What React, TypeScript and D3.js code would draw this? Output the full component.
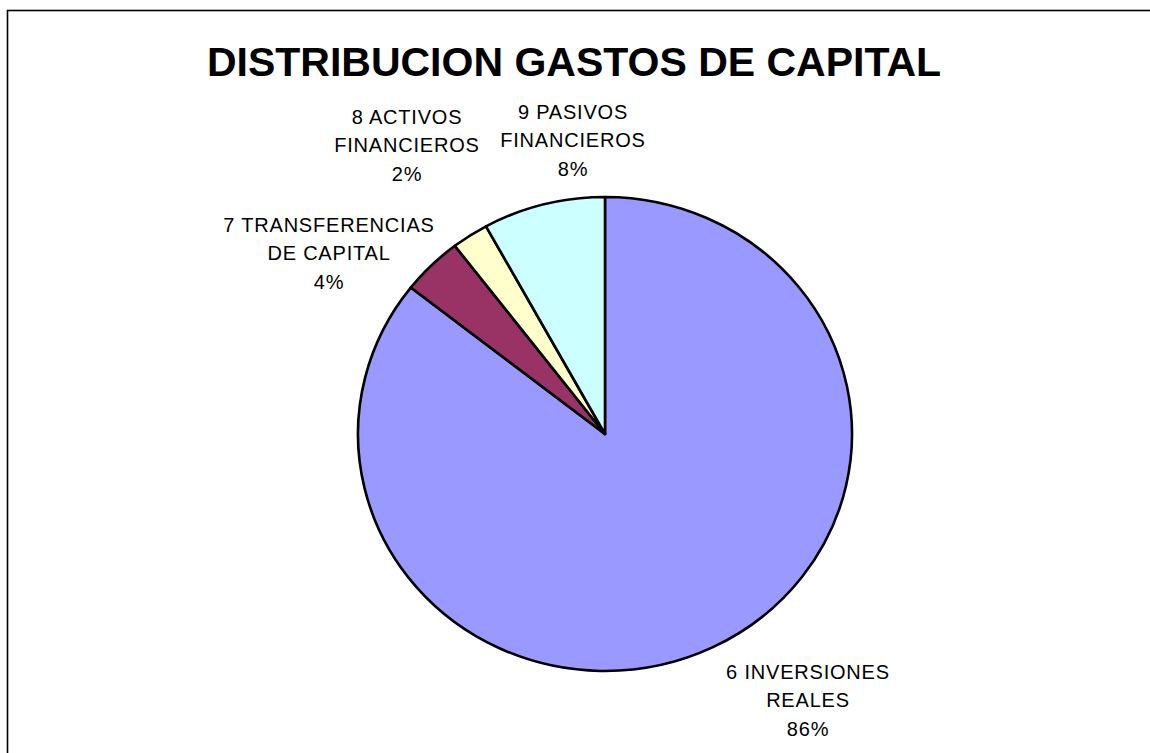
import { useEffect, useRef } from "react";
import * as d3 from "d3";

const categories = [
  "6 INVERSIONES REALES",
  "7 TRANSFERENCIAS DE CAPITAL",
  "8 ACTIVOS FINANCIEROS",
  "9 PASIVOS FINANCIEROS",
];
const values = [85.6, 4.0, 2.4, 8.0];
const labelLines = [
  ["6 INVERSIONES", "REALES"],
  ["7 TRANSFERENCIAS", "DE CAPITAL"],
  ["8 ACTIVOS", "FINANCIEROS"],
  ["9 PASIVOS", "FINANCIEROS"],
];
const colors = ["#9999FF", "#993366", "#FFFFCC", "#CCFFFF"];

// label block anchors (center x, first baseline y), Excel "best fit" spots
const labelPos = [
  [808, 679],
  [329, 232],
  [407, 124],
  [573, 119],
];

const W = 1150,
  H = 753;

const App = () => {
  const ref = useRef<SVGSVGElement>(null);

  useEffect(() => {
    const svg = d3.select(ref.current);
    svg.selectAll("*").remove();

    // frame (right and bottom edges fall outside the picture)
    svg
      .append("rect")
      .attr("x", 7.5)
      .attr("y", 10.5)
      .attr("width", 1300)
      .attr("height", 900)
      .attr("fill", "white")
      .attr("stroke", "black")
      .attr("stroke-width", 1.6);

    svg
      .append("text")
      .attr("x", 574)
      .attr("y", 76)
      .attr("text-anchor", "middle")
      .style("font", "bold 41px 'Liberation Sans', Arial, sans-serif")
      .text("DISTRIBUCION GASTOS DE CAPITAL");

    const cx = 605,
      cy = 434,
      rx = 247,
      ry = 237;

    const pie = d3
      .pie<number>()
      .sort(null)
      .value((d) => d);
    const arcs = pie(values);
    const arc = d3.arc<d3.PieArcDatum<number>>().innerRadius(0).outerRadius(ry);

    const g = svg
      .append("g")
      .attr("transform", `translate(${cx},${cy}) scale(${rx / ry},1)`);

    g.selectAll("path")
      .data(arcs)
      .enter()
      .append("path")
      .attr("d", arc)
      .attr("fill", (d, i) => colors[i])
      .attr("stroke", "black")
      .attr("stroke-width", 2.6)
      .attr("stroke-linejoin", "round")
      .attr("vector-effect", "non-scaling-stroke");

    const total = d3.sum(values);
    const lbl = svg.append("g");
    arcs.forEach((d, i) => {
      const t = lbl
        .append("text")
        .attr("text-anchor", "middle")
        .attr("fill", "black")
        .style("font", "20px 'Liberation Sans', Arial, sans-serif")
        .style("letter-spacing", "0.8px");
      const lines = [
        ...labelLines[i],
        Math.round((d.value / total) * 100) + "%",
      ];
      lines.forEach((s, k) => {
        t.append("tspan")
          .attr("x", labelPos[i][0])
          .attr("y", labelPos[i][1] + k * 28.4)
          .text(s);
      });
      t.append("title").text(categories[i]);
    });
  }, []);

  return (
    <svg
      ref={ref}
      width={W}
      height={H}
      style={{ position: "absolute", left: 0, top: 0, background: "white" }}
    />
  );
};

export default App;
